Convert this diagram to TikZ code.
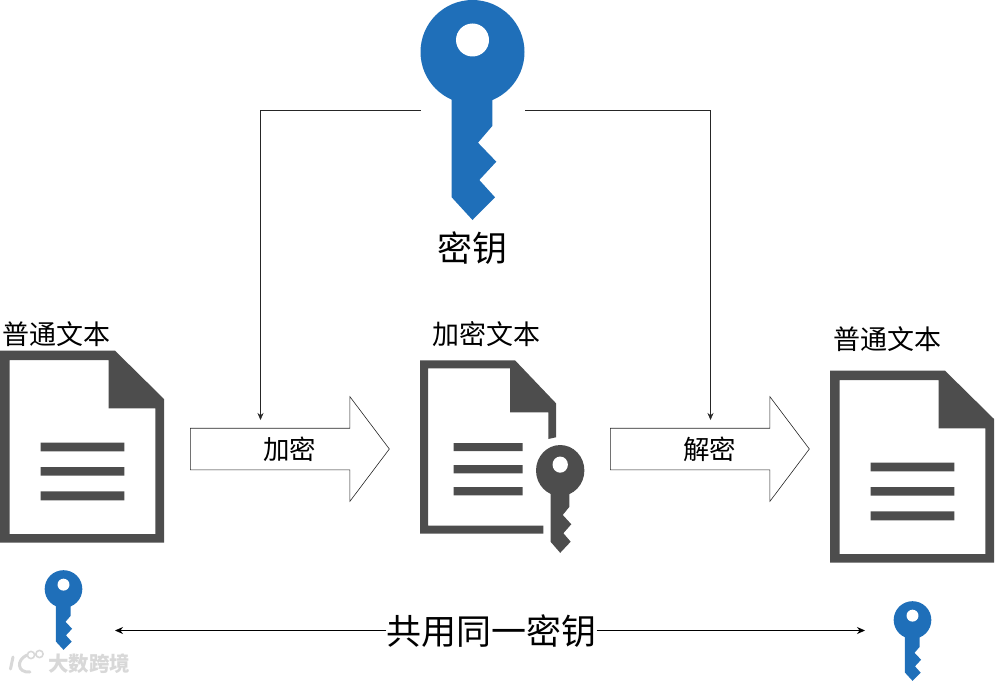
\documentclass[tikz,border=0pt]{standalone}
\usepackage{fontspec}
\setmainfont{Noto Sans CJK SC}
\usetikzlibrary{shapes.arrows,arrows.meta}
\definecolor{keyblue}{HTML}{1F6FB9}
\definecolor{docgray}{HTML}{4D4D4D}
\definecolor{markgray}{HTML}{D8D8D8}
\tikzset{
  x=1pt,y=-1pt,
  label/.style={inner sep=0pt,text=black,font=\fontsize{#1}{#1}\selectfont},
  wire/.style={draw=black!85,line width=.6pt},
  wirehead/.style={wire,-{Stealth[length=7pt,width=6pt]}},
  sharedhead/.style={draw=black,line width=.8pt,-{Stealth[length=8pt,width=7pt]}},
  blockarrow/.style={draw=black!85,line width=.6pt,fill=white,single arrow,
    minimum width=104pt,minimum height=199pt,single arrow head extend=31.5pt,
    single arrow tip angle=106,inner xsep=0pt,inner ysep=10.5pt,
    text height=20pt,text depth=0pt,font=\fontsize{26.5}{26.5}\selectfont},
}
\newcommand{\keydraw}[5]{% x y sx sy colour
  \begin{scope}[shift={(#1,#2)},xscale=#3,yscale=#4]
    \fill[#5] (0,0) circle[radius=52];
    \fill[#5] (-20.8,40) -- (19.8,40) -- (19.8,74) -- (5.5,90.7) -- (23.8,109.7)
       -- (6.8,128) -- (22.5,145.3) -- (0,168) -- (-20.8,145.3) -- cycle;
    \fill[white] (0,-12) circle[radius=16.5];
  \end{scope}}
\newcommand{\docdraw}[2]{% x y
  \begin{scope}[shift={(#1,#2)}]
    \fill[docgray,even odd rule]
      (0,0) -- (115,0) -- (164,48.3) -- (164,192) -- (0,192) -- cycle
      (9.7,9.3) -- (108.7,9.3) -- (108.7,57.6) -- (155.3,57.6) -- (155.3,183.3) -- (9.7,183.3) -- cycle;
    \fill[docgray] (40.7,92) rectangle (124.3,100.6)
                   (40.7,116.3) rectangle (124.3,125)
                   (40.7,140.6) rectangle (124.3,149.6);
  \end{scope}}
\begin{document}
\begin{tikzpicture}
\useasboundingbox (0,0) rectangle (995,682);
% documents
\docdraw{0}{350.7}
\docdraw{830}{370.7}
\fill[docgray,even odd rule]
  (420,360.3) -- (515,360.3) -- (556,403.3) -- (556,437.3) -- (548.3,439) -- (548.3,412.3)
  -- (510,412.3) -- (510,368.3) -- (428,368.3) -- (428,525.7) -- (543.3,525.7) -- (543.3,533.7) -- (420,533.7) -- cycle;
\fill[docgray] (453.7,443) rectangle (522.7,451)
               (453.7,465) rectangle (522.7,473.3)
               (453.7,487) rectangle (522.7,495.3);
% keys
\keydraw{472.5}{52}{1}{1}{keyblue}
\keydraw{560.2}{470.5}{.465}{.49}{docgray}
\keydraw{63.5}{589}{.362}{.362}{keyblue}
\keydraw{912.5}{620}{.362}{.362}{keyblue}
% labels
\node[label=27] (plainA) at (56.5,334) {普通文本};
\node[label=27] (cipher) at (486,334) {加密文本};
\node[label=27] (plainB) at (887,339) {普通文本};
\node[label=35] (keytext) at (472,248) {密钥};
\node[label=35] (shared) at (491.5,631) {共用同一密钥};
% block arrows
\node[blockarrow] (encrypt) at (282,449) {\hspace*{15pt}加密};
\node[blockarrow] (decrypt) at (702,449) {\hspace*{15pt}解密};
% connectors
\coordinate (keyL) at (420.5,110.5);
\coordinate (keyR) at (525,110.5);
\coordinate (encTop) at (260.5,420);
\coordinate (decTop) at (710.5,420);
\coordinate (sharedL) at (115,630.5);
\coordinate (sharedR) at (865,630.5);
\draw[wirehead] (keyL) -| (encTop);
\draw[wirehead] (keyR) -| (decTop);
\draw[sharedhead] (shared.west |- sharedL) -- (sharedL);
\draw[sharedhead] (shared.east |- sharedR) -- (sharedR);
% watermark
\node[inner sep=0pt,text=markgray,font=\bfseries\fontsize{20.5}{20.5}\selectfont] (mark) at (89,664) {大数跨境};
\draw[markgray,line width=3pt,line cap=round] (13,657) -- (10.5,669);
\draw[markgray,line width=3pt,line cap=round] (27,655) .. controls (16,660) and (17,673) .. (30,672);
\draw[markgray,line width=1.6pt] (31,655) circle[radius=3.6] (39.5,654) circle[radius=3.6];
\end{tikzpicture}
\end{document}
